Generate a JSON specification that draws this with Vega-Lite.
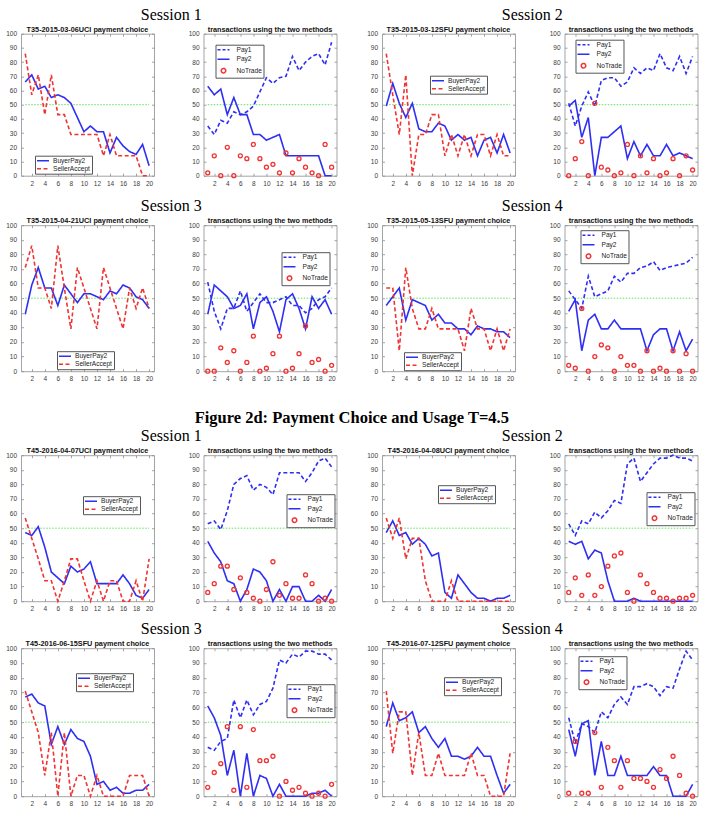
{
  "$schema": "https://vega.github.io/schema/vega-lite/v6.json",
  "padding": {"left": 5, "top": 6.7, "right": 5, "bottom": 2},
  "background": "white",
  "config": {
    "font": "Liberation Sans",
    "view": {"stroke": "#a4a4a4", "strokeWidth": 1},
    "axis": {"domain": false, "grid": false, "tickColor": "#8c8c8c", "tickSize": -2.5, "tickWidth": 0.8, "labelFontSize": 6.5, "labelFont": "Liberation Sans", "labelColor": "#3c3c3c", "labelPadding": 7, "title": null},
    "title": {"font": "Liberation Sans", "fontSize": 7.3, "fontWeight": "bold", "color": "#111111", "offset": -2.5, "frame": "group", "anchor": "middle"},
    "legend": {"orient": "none", "title": null, "padding": 1, "rowPadding": 0, "labelFontSize": 6.6, "labelFont": "Liberation Sans", "labelColor": "#222222", "strokeColor": "#555555", "fillColor": "white", "symbolSize": 36, "symbolStrokeWidth": 1.5, "symbolType": "M-1,0H3", "labelOffset": 9}
  },
  "datasets": {
    "A": [{"x":1,"BuyerPay2":66,"SellerAccept":86},{"x":2,"BuyerPay2":71,"SellerAccept":57},{"x":3,"BuyerPay2":61,"SellerAccept":71},{"x":4,"BuyerPay2":63,"SellerAccept":43},{"x":5,"BuyerPay2":55,"SellerAccept":71},{"x":6,"BuyerPay2":57,"SellerAccept":43},{"x":7,"BuyerPay2":55,"SellerAccept":43},{"x":8,"BuyerPay2":51,"SellerAccept":29},{"x":9,"BuyerPay2":41,"SellerAccept":29},{"x":10,"BuyerPay2":31,"SellerAccept":29},{"x":11,"BuyerPay2":35,"SellerAccept":29},{"x":12,"BuyerPay2":31,"SellerAccept":29},{"x":13,"BuyerPay2":31,"SellerAccept":14},{"x":14,"BuyerPay2":16,"SellerAccept":29},{"x":15,"BuyerPay2":27,"SellerAccept":14},{"x":16,"BuyerPay2":21,"SellerAccept":14},{"x":17,"BuyerPay2":17,"SellerAccept":14},{"x":18,"BuyerPay2":15,"SellerAccept":14},{"x":19,"BuyerPay2":22,"SellerAccept":0},{"x":20,"BuyerPay2":7,"SellerAccept":0}],
    "C": [{"x":1,"BuyerPay2":49,"SellerAccept":86},{"x":2,"BuyerPay2":65,"SellerAccept":57},{"x":3,"BuyerPay2":51,"SellerAccept":29},{"x":4,"BuyerPay2":41,"SellerAccept":71},{"x":5,"BuyerPay2":51,"SellerAccept":0},{"x":6,"BuyerPay2":33,"SellerAccept":29},{"x":7,"BuyerPay2":31,"SellerAccept":29},{"x":8,"BuyerPay2":31,"SellerAccept":43},{"x":9,"BuyerPay2":37,"SellerAccept":43},{"x":10,"BuyerPay2":35,"SellerAccept":14},{"x":11,"BuyerPay2":25,"SellerAccept":29},{"x":12,"BuyerPay2":29,"SellerAccept":14},{"x":13,"BuyerPay2":25,"SellerAccept":29},{"x":14,"BuyerPay2":27,"SellerAccept":14},{"x":15,"BuyerPay2":14,"SellerAccept":29},{"x":16,"BuyerPay2":25,"SellerAccept":29},{"x":17,"BuyerPay2":27,"SellerAccept":14},{"x":18,"BuyerPay2":16,"SellerAccept":29},{"x":19,"BuyerPay2":29,"SellerAccept":14},{"x":20,"BuyerPay2":16,"SellerAccept":14}],
    "E": [{"x":1,"BuyerPay2":39,"SellerAccept":71},{"x":2,"BuyerPay2":59,"SellerAccept":86},{"x":3,"BuyerPay2":71,"SellerAccept":57},{"x":4,"BuyerPay2":57,"SellerAccept":57},{"x":5,"BuyerPay2":57,"SellerAccept":43},{"x":6,"BuyerPay2":45,"SellerAccept":86},{"x":7,"BuyerPay2":59,"SellerAccept":57},{"x":8,"BuyerPay2":53,"SellerAccept":29},{"x":9,"BuyerPay2":47,"SellerAccept":71},{"x":10,"BuyerPay2":53,"SellerAccept":57},{"x":11,"BuyerPay2":53,"SellerAccept":43},{"x":12,"BuyerPay2":51,"SellerAccept":29},{"x":13,"BuyerPay2":49,"SellerAccept":71},{"x":14,"BuyerPay2":55,"SellerAccept":57},{"x":15,"BuyerPay2":53,"SellerAccept":43},{"x":16,"BuyerPay2":59,"SellerAccept":29},{"x":17,"BuyerPay2":57,"SellerAccept":57},{"x":18,"BuyerPay2":51,"SellerAccept":43},{"x":19,"BuyerPay2":49,"SellerAccept":57},{"x":20,"BuyerPay2":43,"SellerAccept":43}],
    "G": [{"x":1,"BuyerPay2":45,"SellerAccept":57},{"x":2,"BuyerPay2":51,"SellerAccept":57},{"x":3,"BuyerPay2":57,"SellerAccept":14},{"x":4,"BuyerPay2":35,"SellerAccept":71},{"x":5,"BuyerPay2":49,"SellerAccept":43},{"x":6,"BuyerPay2":47,"SellerAccept":29},{"x":7,"BuyerPay2":45,"SellerAccept":29},{"x":8,"BuyerPay2":35,"SellerAccept":43},{"x":9,"BuyerPay2":39,"SellerAccept":29},{"x":10,"BuyerPay2":33,"SellerAccept":29},{"x":11,"BuyerPay2":33,"SellerAccept":29},{"x":12,"BuyerPay2":29,"SellerAccept":29},{"x":13,"BuyerPay2":29,"SellerAccept":14},{"x":14,"BuyerPay2":25,"SellerAccept":43},{"x":15,"BuyerPay2":31,"SellerAccept":29},{"x":16,"BuyerPay2":29,"SellerAccept":29},{"x":17,"BuyerPay2":29,"SellerAccept":14},{"x":18,"BuyerPay2":27,"SellerAccept":29},{"x":19,"BuyerPay2":27,"SellerAccept":14},{"x":20,"BuyerPay2":23,"SellerAccept":29}],
    "I": [{"x":1,"BuyerPay2":47,"SellerAccept":57},{"x":2,"BuyerPay2":45,"SellerAccept":43},{"x":3,"BuyerPay2":51,"SellerAccept":29},{"x":4,"BuyerPay2":37,"SellerAccept":14},{"x":5,"BuyerPay2":20,"SellerAccept":14},{"x":6,"BuyerPay2":16,"SellerAccept":0},{"x":7,"BuyerPay2":12,"SellerAccept":14},{"x":8,"BuyerPay2":24,"SellerAccept":29},{"x":9,"BuyerPay2":20,"SellerAccept":29},{"x":10,"BuyerPay2":22,"SellerAccept":14},{"x":11,"BuyerPay2":27,"SellerAccept":0},{"x":12,"BuyerPay2":12,"SellerAccept":14},{"x":13,"BuyerPay2":12,"SellerAccept":0},{"x":14,"BuyerPay2":12,"SellerAccept":14},{"x":15,"BuyerPay2":12,"SellerAccept":14},{"x":16,"BuyerPay2":18,"SellerAccept":0},{"x":17,"BuyerPay2":12,"SellerAccept":0},{"x":18,"BuyerPay2":4,"SellerAccept":14},{"x":19,"BuyerPay2":2,"SellerAccept":0},{"x":20,"BuyerPay2":8,"SellerAccept":29}],
    "K": [{"x":1,"BuyerPay2":47,"SellerAccept":57},{"x":2,"BuyerPay2":55,"SellerAccept":43},{"x":3,"BuyerPay2":45,"SellerAccept":57},{"x":4,"BuyerPay2":47,"SellerAccept":29},{"x":5,"BuyerPay2":39,"SellerAccept":43},{"x":6,"BuyerPay2":43,"SellerAccept":43},{"x":7,"BuyerPay2":39,"SellerAccept":14},{"x":8,"BuyerPay2":31,"SellerAccept":0},{"x":9,"BuyerPay2":33,"SellerAccept":0},{"x":10,"BuyerPay2":6,"SellerAccept":0},{"x":11,"BuyerPay2":2,"SellerAccept":14},{"x":12,"BuyerPay2":18,"SellerAccept":0},{"x":13,"BuyerPay2":12,"SellerAccept":0},{"x":14,"BuyerPay2":6,"SellerAccept":0},{"x":15,"BuyerPay2":2,"SellerAccept":0},{"x":16,"BuyerPay2":2,"SellerAccept":0},{"x":17,"BuyerPay2":0,"SellerAccept":0},{"x":18,"BuyerPay2":2,"SellerAccept":0},{"x":19,"BuyerPay2":2,"SellerAccept":0},{"x":20,"BuyerPay2":4,"SellerAccept":0}],
    "M": [{"x":1,"BuyerPay2":67,"SellerAccept":71},{"x":2,"BuyerPay2":69,"SellerAccept":57},{"x":3,"BuyerPay2":63,"SellerAccept":43},{"x":4,"BuyerPay2":61,"SellerAccept":14},{"x":5,"BuyerPay2":35,"SellerAccept":43},{"x":6,"BuyerPay2":47,"SellerAccept":0},{"x":7,"BuyerPay2":35,"SellerAccept":43},{"x":8,"BuyerPay2":45,"SellerAccept":0},{"x":9,"BuyerPay2":39,"SellerAccept":14},{"x":10,"BuyerPay2":37,"SellerAccept":14},{"x":11,"BuyerPay2":27,"SellerAccept":0},{"x":12,"BuyerPay2":8,"SellerAccept":14},{"x":13,"BuyerPay2":10,"SellerAccept":0},{"x":14,"BuyerPay2":4,"SellerAccept":0},{"x":15,"BuyerPay2":6,"SellerAccept":0},{"x":16,"BuyerPay2":2,"SellerAccept":0},{"x":17,"BuyerPay2":2,"SellerAccept":14},{"x":18,"BuyerPay2":4,"SellerAccept":14},{"x":19,"BuyerPay2":4,"SellerAccept":14},{"x":20,"BuyerPay2":8,"SellerAccept":0}],
    "O": [{"x":1,"BuyerPay2":47,"SellerAccept":71},{"x":2,"BuyerPay2":63,"SellerAccept":29},{"x":3,"BuyerPay2":51,"SellerAccept":57},{"x":4,"BuyerPay2":53,"SellerAccept":57},{"x":5,"BuyerPay2":57,"SellerAccept":14},{"x":6,"BuyerPay2":43,"SellerAccept":43},{"x":7,"BuyerPay2":47,"SellerAccept":14},{"x":8,"BuyerPay2":39,"SellerAccept":14},{"x":9,"BuyerPay2":33,"SellerAccept":29},{"x":10,"BuyerPay2":39,"SellerAccept":14},{"x":11,"BuyerPay2":27,"SellerAccept":14},{"x":12,"BuyerPay2":27,"SellerAccept":14},{"x":13,"BuyerPay2":25,"SellerAccept":14},{"x":14,"BuyerPay2":27,"SellerAccept":29},{"x":15,"BuyerPay2":33,"SellerAccept":14},{"x":16,"BuyerPay2":27,"SellerAccept":14},{"x":17,"BuyerPay2":27,"SellerAccept":0},{"x":18,"BuyerPay2":14,"SellerAccept":0},{"x":19,"BuyerPay2":2,"SellerAccept":0},{"x":20,"BuyerPay2":8,"SellerAccept":29}],
    "B": [{"x":1,"Pay1":35,"Pay2":63,"NoTrade":2},{"x":2,"Pay1":29,"Pay2":57,"NoTrade":14},{"x":3,"Pay1":39,"Pay2":61,"NoTrade":0},{"x":4,"Pay1":37,"Pay2":43,"NoTrade":20},{"x":5,"Pay1":45,"Pay2":55,"NoTrade":0},{"x":6,"Pay1":43,"Pay2":43,"NoTrade":14},{"x":7,"Pay1":45,"Pay2":43,"NoTrade":12},{"x":8,"Pay1":49,"Pay2":29,"NoTrade":22},{"x":9,"Pay1":59,"Pay2":29,"NoTrade":12},{"x":10,"Pay1":69,"Pay2":25,"NoTrade":6},{"x":11,"Pay1":65,"Pay2":27,"NoTrade":8},{"x":12,"Pay1":69,"Pay2":29,"NoTrade":2},{"x":13,"Pay1":70,"Pay2":14,"NoTrade":16},{"x":14,"Pay1":84,"Pay2":14,"NoTrade":2},{"x":15,"Pay1":74,"Pay2":14,"NoTrade":12},{"x":16,"Pay1":80,"Pay2":14,"NoTrade":6},{"x":17,"Pay1":84,"Pay2":14,"NoTrade":2},{"x":18,"Pay1":86,"Pay2":14,"NoTrade":0},{"x":19,"Pay1":78,"Pay2":0,"NoTrade":22},{"x":20,"Pay1":94,"Pay2":0,"NoTrade":6}],
    "D": [{"x":1,"Pay1":51,"Pay2":49,"NoTrade":0},{"x":2,"Pay1":35,"Pay2":53,"NoTrade":12},{"x":3,"Pay1":49,"Pay2":27,"NoTrade":24},{"x":4,"Pay1":59,"Pay2":41,"NoTrade":0},{"x":5,"Pay1":49,"Pay2":0,"NoTrade":51},{"x":6,"Pay1":67,"Pay2":27,"NoTrade":6},{"x":7,"Pay1":69,"Pay2":27,"NoTrade":4},{"x":8,"Pay1":69,"Pay2":31,"NoTrade":0},{"x":9,"Pay1":63,"Pay2":35,"NoTrade":2},{"x":10,"Pay1":66,"Pay2":12,"NoTrade":22},{"x":11,"Pay1":76,"Pay2":24,"NoTrade":0},{"x":12,"Pay1":72,"Pay2":14,"NoTrade":14},{"x":13,"Pay1":76,"Pay2":22,"NoTrade":2},{"x":14,"Pay1":74,"Pay2":14,"NoTrade":12},{"x":15,"Pay1":86,"Pay2":14,"NoTrade":0},{"x":16,"Pay1":76,"Pay2":22,"NoTrade":2},{"x":17,"Pay1":74,"Pay2":14,"NoTrade":12},{"x":18,"Pay1":84,"Pay2":16,"NoTrade":0},{"x":19,"Pay1":72,"Pay2":14,"NoTrade":14},{"x":20,"Pay1":84,"Pay2":12,"NoTrade":4}],
    "F": [{"x":1,"Pay1":61,"Pay2":39,"NoTrade":0},{"x":2,"Pay1":41,"Pay2":59,"NoTrade":0},{"x":3,"Pay1":29,"Pay2":55,"NoTrade":16},{"x":4,"Pay1":43,"Pay2":51,"NoTrade":6},{"x":5,"Pay1":43,"Pay2":43,"NoTrade":14},{"x":6,"Pay1":55,"Pay2":45,"NoTrade":0},{"x":7,"Pay1":41,"Pay2":53,"NoTrade":6},{"x":8,"Pay1":47,"Pay2":29,"NoTrade":24},{"x":9,"Pay1":53,"Pay2":47,"NoTrade":0},{"x":10,"Pay1":47,"Pay2":51,"NoTrade":2},{"x":11,"Pay1":47,"Pay2":41,"NoTrade":12},{"x":12,"Pay1":49,"Pay2":27,"NoTrade":24},{"x":13,"Pay1":51,"Pay2":49,"NoTrade":0},{"x":14,"Pay1":45,"Pay2":53,"NoTrade":2},{"x":15,"Pay1":45,"Pay2":43,"NoTrade":12},{"x":16,"Pay1":40,"Pay2":29,"NoTrade":31},{"x":17,"Pay1":43,"Pay2":51,"NoTrade":6},{"x":18,"Pay1":49,"Pay2":43,"NoTrade":8},{"x":19,"Pay1":51,"Pay2":49,"NoTrade":0},{"x":20,"Pay1":57,"Pay2":39,"NoTrade":4}],
    "H": [{"x":1,"Pay1":55,"Pay2":41,"NoTrade":4},{"x":2,"Pay1":49,"Pay2":49,"NoTrade":2},{"x":3,"Pay1":43,"Pay2":14,"NoTrade":43},{"x":4,"Pay1":65,"Pay2":35,"NoTrade":0},{"x":5,"Pay1":51,"Pay2":39,"NoTrade":10},{"x":6,"Pay1":53,"Pay2":29,"NoTrade":18},{"x":7,"Pay1":55,"Pay2":29,"NoTrade":16},{"x":8,"Pay1":65,"Pay2":35,"NoTrade":0},{"x":9,"Pay1":61,"Pay2":29,"NoTrade":10},{"x":10,"Pay1":67,"Pay2":29,"NoTrade":4},{"x":11,"Pay1":67,"Pay2":29,"NoTrade":4},{"x":12,"Pay1":71,"Pay2":29,"NoTrade":0},{"x":13,"Pay1":72,"Pay2":14,"NoTrade":14},{"x":14,"Pay1":75,"Pay2":25,"NoTrade":0},{"x":15,"Pay1":69,"Pay2":29,"NoTrade":2},{"x":16,"Pay1":71,"Pay2":29,"NoTrade":0},{"x":17,"Pay1":72,"Pay2":14,"NoTrade":14},{"x":18,"Pay1":73,"Pay2":27,"NoTrade":0},{"x":19,"Pay1":74,"Pay2":14,"NoTrade":12},{"x":20,"Pay1":78,"Pay2":22,"NoTrade":0}],
    "J": [{"x":1,"Pay1":53,"Pay2":41,"NoTrade":6},{"x":2,"Pay1":55,"Pay2":33,"NoTrade":12},{"x":3,"Pay1":49,"Pay2":27,"NoTrade":24},{"x":4,"Pay1":62,"Pay2":14,"NoTrade":24},{"x":5,"Pay1":80,"Pay2":12,"NoTrade":8},{"x":6,"Pay1":84,"Pay2":0,"NoTrade":16},{"x":7,"Pay1":86,"Pay2":8,"NoTrade":6},{"x":8,"Pay1":76,"Pay2":22,"NoTrade":2},{"x":9,"Pay1":80,"Pay2":20,"NoTrade":0},{"x":10,"Pay1":78,"Pay2":14,"NoTrade":8},{"x":11,"Pay1":73,"Pay2":0,"NoTrade":27},{"x":12,"Pay1":88,"Pay2":8,"NoTrade":4},{"x":13,"Pay1":88,"Pay2":0,"NoTrade":12},{"x":14,"Pay1":88,"Pay2":10,"NoTrade":2},{"x":15,"Pay1":88,"Pay2":10,"NoTrade":2},{"x":16,"Pay1":82,"Pay2":0,"NoTrade":18},{"x":17,"Pay1":88,"Pay2":0,"NoTrade":12},{"x":18,"Pay1":96,"Pay2":4,"NoTrade":0},{"x":19,"Pay1":98,"Pay2":0,"NoTrade":2},{"x":20,"Pay1":92,"Pay2":8,"NoTrade":0}],
    "L": [{"x":1,"Pay1":53,"Pay2":41,"NoTrade":6},{"x":2,"Pay1":45,"Pay2":39,"NoTrade":16},{"x":3,"Pay1":55,"Pay2":41,"NoTrade":4},{"x":4,"Pay1":53,"Pay2":29,"NoTrade":18},{"x":5,"Pay1":61,"Pay2":35,"NoTrade":4},{"x":6,"Pay1":57,"Pay2":33,"NoTrade":10},{"x":7,"Pay1":62,"Pay2":14,"NoTrade":24},{"x":8,"Pay1":69,"Pay2":0,"NoTrade":31},{"x":9,"Pay1":67,"Pay2":0,"NoTrade":33},{"x":10,"Pay1":94,"Pay2":0,"NoTrade":6},{"x":11,"Pay1":98,"Pay2":2,"NoTrade":0},{"x":12,"Pay1":82,"Pay2":0,"NoTrade":18},{"x":13,"Pay1":88,"Pay2":0,"NoTrade":12},{"x":14,"Pay1":94,"Pay2":0,"NoTrade":6},{"x":15,"Pay1":98,"Pay2":0,"NoTrade":2},{"x":16,"Pay1":98,"Pay2":0,"NoTrade":2},{"x":17,"Pay1":100,"Pay2":0,"NoTrade":0},{"x":18,"Pay1":98,"Pay2":0,"NoTrade":2},{"x":19,"Pay1":98,"Pay2":0,"NoTrade":2},{"x":20,"Pay1":96,"Pay2":0,"NoTrade":4}],
    "N": [{"x":1,"Pay1":33,"Pay2":61,"NoTrade":6},{"x":2,"Pay1":31,"Pay2":53,"NoTrade":16},{"x":3,"Pay1":37,"Pay2":41,"NoTrade":22},{"x":4,"Pay1":39,"Pay2":14,"NoTrade":47},{"x":5,"Pay1":65,"Pay2":31,"NoTrade":4},{"x":6,"Pay1":53,"Pay2":0,"NoTrade":47},{"x":7,"Pay1":65,"Pay2":29,"NoTrade":6},{"x":8,"Pay1":55,"Pay2":0,"NoTrade":45},{"x":9,"Pay1":62,"Pay2":14,"NoTrade":24},{"x":10,"Pay1":64,"Pay2":12,"NoTrade":24},{"x":11,"Pay1":73,"Pay2":0,"NoTrade":27},{"x":12,"Pay1":92,"Pay2":8,"NoTrade":0},{"x":13,"Pay1":90,"Pay2":0,"NoTrade":10},{"x":14,"Pay1":96,"Pay2":0,"NoTrade":4},{"x":15,"Pay1":94,"Pay2":0,"NoTrade":6},{"x":16,"Pay1":98,"Pay2":0,"NoTrade":2},{"x":17,"Pay1":98,"Pay2":2,"NoTrade":0},{"x":18,"Pay1":96,"Pay2":2,"NoTrade":2},{"x":19,"Pay1":96,"Pay2":4,"NoTrade":0},{"x":20,"Pay1":92,"Pay2":0,"NoTrade":8}],
    "P": [{"x":1,"Pay1":53,"Pay2":45,"NoTrade":2},{"x":2,"Pay1":36,"Pay2":27,"NoTrade":37},{"x":3,"Pay1":49,"Pay2":49,"NoTrade":2},{"x":4,"Pay1":47,"Pay2":51,"NoTrade":2},{"x":5,"Pay1":43,"Pay2":14,"NoTrade":43},{"x":6,"Pay1":57,"Pay2":37,"NoTrade":6},{"x":7,"Pay1":53,"Pay2":14,"NoTrade":33},{"x":8,"Pay1":62,"Pay2":14,"NoTrade":24},{"x":9,"Pay1":67,"Pay2":27,"NoTrade":6},{"x":10,"Pay1":62,"Pay2":14,"NoTrade":24},{"x":11,"Pay1":74,"Pay2":14,"NoTrade":12},{"x":12,"Pay1":74,"Pay2":14,"NoTrade":12},{"x":13,"Pay1":76,"Pay2":14,"NoTrade":10},{"x":14,"Pay1":74,"Pay2":20,"NoTrade":6},{"x":15,"Pay1":68,"Pay2":14,"NoTrade":18},{"x":16,"Pay1":74,"Pay2":14,"NoTrade":12},{"x":17,"Pay1":73,"Pay2":0,"NoTrade":27},{"x":18,"Pay1":86,"Pay2":0,"NoTrade":14},{"x":19,"Pay1":98,"Pay2":0,"NoTrade":2},{"x":20,"Pay1":92,"Pay2":8,"NoTrade":0}]
  },
  "vconcat": [
    {
      "spacing": 10.5,
      "resolve": {"scale": {"x": "independent", "y": "independent", "color": "independent", "strokeDash": "independent"}, "legend": {"color": "independent"}, "axis": {"x": "independent", "y": "independent"}},
      "vconcat": [
        {
          "spacing": 28,
          "resolve": {"scale": {"x": "independent", "y": "independent", "color": "independent", "strokeDash": "independent"}, "legend": {"color": "independent"}, "axis": {"x": "independent", "y": "independent"}},
          "hconcat": [
            {
              "title": {"text": "Session 1", "font": "Liberation Serif", "fontSize": 16, "fontWeight": "normal", "color": "#000000", "frame": "bounds", "offset": 2.5},
              "spacing": 32.5,
              "resolve": {"scale": {"x": "independent", "y": "independent", "color": "independent", "strokeDash": "independent"}, "legend": {"color": "independent"}, "axis": {"x": "independent", "y": "independent"}},
              "hconcat": [
                {
                  "width": 133, "height": 142,
                  "title": "T35-2015-03-06UCI payment choice",
                  "data": {"name": "A"},
                  "resolve": {"axis": {"x": "independent", "y": "independent"}},
                  "layer": [
                    {"data": {"values": [{}]}, "mark": {"type": "rule", "color": "#5fe05f", "strokeDash": [1.5, 1.5], "strokeWidth": 1}, "encoding": {"x": {"datum": 1, "type": "quantitative", "scale": {"domain": [0.35, 20.75], "nice": false, "zero": false}, "axis": {"orient": "top", "labels": false, "values": [2,4,6,8,10,12,14,16,18,20]}}, "x2": {"datum": 20}, "y": {"datum": 50, "type": "quantitative", "scale": {"domain": [0, 100], "nice": false}, "axis": {"orient": "right", "labels": false, "values": [0,10,20,30,40,50,60,70,80,90,100]}}}},
                    {"transform": [{"fold": ["BuyerPay2", "SellerAccept"], "as": ["s", "v"]}], "mark": {"type": "line", "strokeWidth": 1.6}, "encoding": {"x": {"field": "x", "type": "quantitative", "scale": {"domain": [0.35, 20.75], "nice": false, "zero": false}, "axis": {"orient": "bottom", "values": [2,4,6,8,10,12,14,16,18,20]}}, "y": {"field": "v", "type": "quantitative", "scale": {"domain": [0, 100], "nice": false}, "axis": {"orient": "left", "values": [0,10,20,30,40,50,60,70,80,90,100]}}, "color": {"field": "s", "type": "nominal", "scale": {"domain": ["BuyerPay2", "SellerAccept"], "range": ["#2f2ff2", "#f03333"]}, "legend": {"legendX": 14, "legendY": 122, "encode": {"symbols": {"update": {"strokeDash": {"signal": "datum.value === 'SellerAccept' ? [3, 2] : [1, 0]"}}}}}}, "strokeDash": {"field": "s", "type": "nominal", "scale": {"domain": ["BuyerPay2", "SellerAccept"], "range": [[1, 0], [4, 2.5]]}, "legend": null}}}
                  ]
                },
                {
                  "width": 133, "height": 142,
                  "title": "transactions using the two methods",
                  "data": {"name": "B"},
                  "resolve": {"axis": {"x": "independent", "y": "independent"}},
                  "layer": [
                    {"data": {"values": [{}]}, "mark": {"type": "rule", "color": "#5fe05f", "strokeDash": [1.5, 1.5], "strokeWidth": 1}, "encoding": {"x": {"datum": 1, "type": "quantitative", "scale": {"domain": [0.35, 20.75], "nice": false, "zero": false}, "axis": {"orient": "top", "labels": false, "values": [2,4,6,8,10,12,14,16,18,20]}}, "x2": {"datum": 20}, "y": {"datum": 50, "type": "quantitative", "scale": {"domain": [0, 100], "nice": false}, "axis": {"orient": "right", "labels": false, "values": [0,10,20,30,40,50,60,70,80,90,100]}}}},
                    {"transform": [{"fold": ["Pay1", "Pay2"], "as": ["s", "v"]}], "mark": {"type": "line", "strokeWidth": 1.6}, "encoding": {"x": {"field": "x", "type": "quantitative", "scale": {"domain": [0.35, 20.75], "nice": false, "zero": false}, "axis": {"orient": "bottom", "values": [2,4,6,8,10,12,14,16,18,20]}}, "y": {"field": "v", "type": "quantitative", "scale": {"domain": [0, 100], "nice": false}, "axis": {"orient": "left", "values": [0,10,20,30,40,50,60,70,80,90,100]}}, "color": {"field": "s", "type": "nominal", "scale": {"domain": ["Pay1", "Pay2", "NoTrade"], "range": ["#2f2ff2", "#2f2ff2", "#f03333"]}, "legend": {"legendX": 12, "legendY": 11, "rowPadding": 1.5, "labelOffset": 12, "encode": {"symbols": {"update": {"shape": {"signal": "datum.value === 'NoTrade' ? 'M1.75,0A0.75,0.75,0,1,1,0.25,0A0.75,0.75,0,1,1,1.75,0' : 'M-1,0H3'"}, "strokeDash": {"signal": "datum.value === 'Pay1' ? [3, 2] : [1, 0]"}, "fill": {"value": "transparent"}}}}}}, "strokeDash": {"field": "s", "type": "nominal", "scale": {"domain": ["Pay1", "Pay2"], "range": [[4, 2.5], [1, 0]]}, "legend": null}}},
                    {"transform": [{"fold": ["NoTrade"], "as": ["s", "v"]}], "mark": {"type": "point", "filled": false, "opacity": 1, "size": 16, "strokeWidth": 1.3}, "encoding": {"x": {"field": "x", "type": "quantitative", "scale": {"domain": [0.35, 20.75], "nice": false, "zero": false}, "axis": null}, "y": {"field": "v", "type": "quantitative", "scale": {"domain": [0, 100], "nice": false}, "axis": null}, "color": {"field": "s", "type": "nominal", "scale": {"domain": ["Pay1", "Pay2", "NoTrade"], "range": ["#2f2ff2", "#2f2ff2", "#f03333"]}}}}
                  ]
                }
              ]
            },
            {
              "title": {"text": "Session 2", "font": "Liberation Serif", "fontSize": 16, "fontWeight": "normal", "color": "#000000", "frame": "bounds", "offset": 2.5},
              "spacing": 32.5,
              "resolve": {"scale": {"x": "independent", "y": "independent", "color": "independent", "strokeDash": "independent"}, "legend": {"color": "independent"}, "axis": {"x": "independent", "y": "independent"}},
              "hconcat": [
                {
                  "width": 133, "height": 142,
                  "title": "T35-2015-03-12SFU payment choice",
                  "data": {"name": "C"},
                  "resolve": {"axis": {"x": "independent", "y": "independent"}},
                  "layer": [
                    {"data": {"values": [{}]}, "mark": {"type": "rule", "color": "#5fe05f", "strokeDash": [1.5, 1.5], "strokeWidth": 1}, "encoding": {"x": {"datum": 1, "type": "quantitative", "scale": {"domain": [0.35, 20.75], "nice": false, "zero": false}, "axis": {"orient": "top", "labels": false, "values": [2,4,6,8,10,12,14,16,18,20]}}, "x2": {"datum": 20}, "y": {"datum": 50, "type": "quantitative", "scale": {"domain": [0, 100], "nice": false}, "axis": {"orient": "right", "labels": false, "values": [0,10,20,30,40,50,60,70,80,90,100]}}}},
                    {"transform": [{"fold": ["BuyerPay2", "SellerAccept"], "as": ["s", "v"]}], "mark": {"type": "line", "strokeWidth": 1.6}, "encoding": {"x": {"field": "x", "type": "quantitative", "scale": {"domain": [0.35, 20.75], "nice": false, "zero": false}, "axis": {"orient": "bottom", "values": [2,4,6,8,10,12,14,16,18,20]}}, "y": {"field": "v", "type": "quantitative", "scale": {"domain": [0, 100], "nice": false}, "axis": {"orient": "left", "values": [0,10,20,30,40,50,60,70,80,90,100]}}, "color": {"field": "s", "type": "nominal", "scale": {"domain": ["BuyerPay2", "SellerAccept"], "range": ["#2f2ff2", "#f03333"]}, "legend": {"legendX": 48, "legendY": 42, "encode": {"symbols": {"update": {"strokeDash": {"signal": "datum.value === 'SellerAccept' ? [3, 2] : [1, 0]"}}}}}}, "strokeDash": {"field": "s", "type": "nominal", "scale": {"domain": ["BuyerPay2", "SellerAccept"], "range": [[1, 0], [4, 2.5]]}, "legend": null}}}
                  ]
                },
                {
                  "width": 133, "height": 142,
                  "title": "transactions using the two methods",
                  "data": {"name": "D"},
                  "resolve": {"axis": {"x": "independent", "y": "independent"}},
                  "layer": [
                    {"data": {"values": [{}]}, "mark": {"type": "rule", "color": "#5fe05f", "strokeDash": [1.5, 1.5], "strokeWidth": 1}, "encoding": {"x": {"datum": 1, "type": "quantitative", "scale": {"domain": [0.35, 20.75], "nice": false, "zero": false}, "axis": {"orient": "top", "labels": false, "values": [2,4,6,8,10,12,14,16,18,20]}}, "x2": {"datum": 20}, "y": {"datum": 50, "type": "quantitative", "scale": {"domain": [0, 100], "nice": false}, "axis": {"orient": "right", "labels": false, "values": [0,10,20,30,40,50,60,70,80,90,100]}}}},
                    {"transform": [{"fold": ["Pay1", "Pay2"], "as": ["s", "v"]}], "mark": {"type": "line", "strokeWidth": 1.6}, "encoding": {"x": {"field": "x", "type": "quantitative", "scale": {"domain": [0.35, 20.75], "nice": false, "zero": false}, "axis": {"orient": "bottom", "values": [2,4,6,8,10,12,14,16,18,20]}}, "y": {"field": "v", "type": "quantitative", "scale": {"domain": [0, 100], "nice": false}, "axis": {"orient": "left", "values": [0,10,20,30,40,50,60,70,80,90,100]}}, "color": {"field": "s", "type": "nominal", "scale": {"domain": ["Pay1", "Pay2", "NoTrade"], "range": ["#2f2ff2", "#2f2ff2", "#f03333"]}, "legend": {"legendX": 11, "legendY": 6, "rowPadding": 1.5, "labelOffset": 12, "encode": {"symbols": {"update": {"shape": {"signal": "datum.value === 'NoTrade' ? 'M1.75,0A0.75,0.75,0,1,1,0.25,0A0.75,0.75,0,1,1,1.75,0' : 'M-1,0H3'"}, "strokeDash": {"signal": "datum.value === 'Pay1' ? [3, 2] : [1, 0]"}, "fill": {"value": "transparent"}}}}}}, "strokeDash": {"field": "s", "type": "nominal", "scale": {"domain": ["Pay1", "Pay2"], "range": [[4, 2.5], [1, 0]]}, "legend": null}}},
                    {"transform": [{"fold": ["NoTrade"], "as": ["s", "v"]}], "mark": {"type": "point", "filled": false, "opacity": 1, "size": 16, "strokeWidth": 1.3}, "encoding": {"x": {"field": "x", "type": "quantitative", "scale": {"domain": [0.35, 20.75], "nice": false, "zero": false}, "axis": null}, "y": {"field": "v", "type": "quantitative", "scale": {"domain": [0, 100], "nice": false}, "axis": null}, "color": {"field": "s", "type": "nominal", "scale": {"domain": ["Pay1", "Pay2", "NoTrade"], "range": ["#2f2ff2", "#2f2ff2", "#f03333"]}}}}
                  ]
                }
              ]
            }
          ]
        },
        {
          "spacing": 28,
          "resolve": {"scale": {"x": "independent", "y": "independent", "color": "independent", "strokeDash": "independent"}, "legend": {"color": "independent"}, "axis": {"x": "independent", "y": "independent"}},
          "hconcat": [
            {
              "title": {"text": "Session 3", "font": "Liberation Serif", "fontSize": 16, "fontWeight": "normal", "color": "#000000", "frame": "bounds", "offset": 2.5},
              "spacing": 32.5,
              "resolve": {"scale": {"x": "independent", "y": "independent", "color": "independent", "strokeDash": "independent"}, "legend": {"color": "independent"}, "axis": {"x": "independent", "y": "independent"}},
              "hconcat": [
                {
                  "width": 133, "height": 146,
                  "title": "T35-2015-04-21UCI payment choice",
                  "data": {"name": "E"},
                  "resolve": {"axis": {"x": "independent", "y": "independent"}},
                  "layer": [
                    {"data": {"values": [{}]}, "mark": {"type": "rule", "color": "#5fe05f", "strokeDash": [1.5, 1.5], "strokeWidth": 1}, "encoding": {"x": {"datum": 1, "type": "quantitative", "scale": {"domain": [0.35, 20.75], "nice": false, "zero": false}, "axis": {"orient": "top", "labels": false, "values": [2,4,6,8,10,12,14,16,18,20]}}, "x2": {"datum": 20}, "y": {"datum": 50, "type": "quantitative", "scale": {"domain": [0, 100], "nice": false}, "axis": {"orient": "right", "labels": false, "values": [0,10,20,30,40,50,60,70,80,90,100]}}}},
                    {"transform": [{"fold": ["BuyerPay2", "SellerAccept"], "as": ["s", "v"]}], "mark": {"type": "line", "strokeWidth": 1.6}, "encoding": {"x": {"field": "x", "type": "quantitative", "scale": {"domain": [0.35, 20.75], "nice": false, "zero": false}, "axis": {"orient": "bottom", "values": [2,4,6,8,10,12,14,16,18,20]}}, "y": {"field": "v", "type": "quantitative", "scale": {"domain": [0, 100], "nice": false}, "axis": {"orient": "left", "values": [0,10,20,30,40,50,60,70,80,90,100]}}, "color": {"field": "s", "type": "nominal", "scale": {"domain": ["BuyerPay2", "SellerAccept"], "range": ["#2f2ff2", "#f03333"]}, "legend": {"legendX": 36, "legendY": 126, "encode": {"symbols": {"update": {"strokeDash": {"signal": "datum.value === 'SellerAccept' ? [3, 2] : [1, 0]"}}}}}}, "strokeDash": {"field": "s", "type": "nominal", "scale": {"domain": ["BuyerPay2", "SellerAccept"], "range": [[1, 0], [4, 2.5]]}, "legend": null}}}
                  ]
                },
                {
                  "width": 133, "height": 146,
                  "title": "transactions using the two methods",
                  "data": {"name": "F"},
                  "resolve": {"axis": {"x": "independent", "y": "independent"}},
                  "layer": [
                    {"data": {"values": [{}]}, "mark": {"type": "rule", "color": "#5fe05f", "strokeDash": [1.5, 1.5], "strokeWidth": 1}, "encoding": {"x": {"datum": 1, "type": "quantitative", "scale": {"domain": [0.35, 20.75], "nice": false, "zero": false}, "axis": {"orient": "top", "labels": false, "values": [2,4,6,8,10,12,14,16,18,20]}}, "x2": {"datum": 20}, "y": {"datum": 50, "type": "quantitative", "scale": {"domain": [0, 100], "nice": false}, "axis": {"orient": "right", "labels": false, "values": [0,10,20,30,40,50,60,70,80,90,100]}}}},
                    {"transform": [{"fold": ["Pay1", "Pay2"], "as": ["s", "v"]}], "mark": {"type": "line", "strokeWidth": 1.6}, "encoding": {"x": {"field": "x", "type": "quantitative", "scale": {"domain": [0.35, 20.75], "nice": false, "zero": false}, "axis": {"orient": "bottom", "values": [2,4,6,8,10,12,14,16,18,20]}}, "y": {"field": "v", "type": "quantitative", "scale": {"domain": [0, 100], "nice": false}, "axis": {"orient": "left", "values": [0,10,20,30,40,50,60,70,80,90,100]}}, "color": {"field": "s", "type": "nominal", "scale": {"domain": ["Pay1", "Pay2", "NoTrade"], "range": ["#2f2ff2", "#2f2ff2", "#f03333"]}, "legend": {"legendX": 78, "legendY": 27, "rowPadding": 1.5, "labelOffset": 12, "encode": {"symbols": {"update": {"shape": {"signal": "datum.value === 'NoTrade' ? 'M1.75,0A0.75,0.75,0,1,1,0.25,0A0.75,0.75,0,1,1,1.75,0' : 'M-1,0H3'"}, "strokeDash": {"signal": "datum.value === 'Pay1' ? [3, 2] : [1, 0]"}, "fill": {"value": "transparent"}}}}}}, "strokeDash": {"field": "s", "type": "nominal", "scale": {"domain": ["Pay1", "Pay2"], "range": [[4, 2.5], [1, 0]]}, "legend": null}}},
                    {"transform": [{"fold": ["NoTrade"], "as": ["s", "v"]}], "mark": {"type": "point", "filled": false, "opacity": 1, "size": 16, "strokeWidth": 1.3}, "encoding": {"x": {"field": "x", "type": "quantitative", "scale": {"domain": [0.35, 20.75], "nice": false, "zero": false}, "axis": null}, "y": {"field": "v", "type": "quantitative", "scale": {"domain": [0, 100], "nice": false}, "axis": null}, "color": {"field": "s", "type": "nominal", "scale": {"domain": ["Pay1", "Pay2", "NoTrade"], "range": ["#2f2ff2", "#2f2ff2", "#f03333"]}}}}
                  ]
                }
              ]
            },
            {
              "title": {"text": "Session 4", "font": "Liberation Serif", "fontSize": 16, "fontWeight": "normal", "color": "#000000", "frame": "bounds", "offset": 2.5},
              "spacing": 32.5,
              "resolve": {"scale": {"x": "independent", "y": "independent", "color": "independent", "strokeDash": "independent"}, "legend": {"color": "independent"}, "axis": {"x": "independent", "y": "independent"}},
              "hconcat": [
                {
                  "width": 133, "height": 146,
                  "title": "T35-2015-05-13SFU payment choice",
                  "data": {"name": "G"},
                  "resolve": {"axis": {"x": "independent", "y": "independent"}},
                  "layer": [
                    {"data": {"values": [{}]}, "mark": {"type": "rule", "color": "#5fe05f", "strokeDash": [1.5, 1.5], "strokeWidth": 1}, "encoding": {"x": {"datum": 1, "type": "quantitative", "scale": {"domain": [0.35, 20.75], "nice": false, "zero": false}, "axis": {"orient": "top", "labels": false, "values": [2,4,6,8,10,12,14,16,18,20]}}, "x2": {"datum": 20}, "y": {"datum": 50, "type": "quantitative", "scale": {"domain": [0, 100], "nice": false}, "axis": {"orient": "right", "labels": false, "values": [0,10,20,30,40,50,60,70,80,90,100]}}}},
                    {"transform": [{"fold": ["BuyerPay2", "SellerAccept"], "as": ["s", "v"]}], "mark": {"type": "line", "strokeWidth": 1.6}, "encoding": {"x": {"field": "x", "type": "quantitative", "scale": {"domain": [0.35, 20.75], "nice": false, "zero": false}, "axis": {"orient": "bottom", "values": [2,4,6,8,10,12,14,16,18,20]}}, "y": {"field": "v", "type": "quantitative", "scale": {"domain": [0, 100], "nice": false}, "axis": {"orient": "left", "values": [0,10,20,30,40,50,60,70,80,90,100]}}, "color": {"field": "s", "type": "nominal", "scale": {"domain": ["BuyerPay2", "SellerAccept"], "range": ["#2f2ff2", "#f03333"]}, "legend": {"legendX": 22, "legendY": 127, "encode": {"symbols": {"update": {"strokeDash": {"signal": "datum.value === 'SellerAccept' ? [3, 2] : [1, 0]"}}}}}}, "strokeDash": {"field": "s", "type": "nominal", "scale": {"domain": ["BuyerPay2", "SellerAccept"], "range": [[1, 0], [4, 2.5]]}, "legend": null}}}
                  ]
                },
                {
                  "width": 133, "height": 146,
                  "title": "transactions using the two methods",
                  "data": {"name": "H"},
                  "resolve": {"axis": {"x": "independent", "y": "independent"}},
                  "layer": [
                    {"data": {"values": [{}]}, "mark": {"type": "rule", "color": "#5fe05f", "strokeDash": [1.5, 1.5], "strokeWidth": 1}, "encoding": {"x": {"datum": 1, "type": "quantitative", "scale": {"domain": [0.35, 20.75], "nice": false, "zero": false}, "axis": {"orient": "top", "labels": false, "values": [2,4,6,8,10,12,14,16,18,20]}}, "x2": {"datum": 20}, "y": {"datum": 50, "type": "quantitative", "scale": {"domain": [0, 100], "nice": false}, "axis": {"orient": "right", "labels": false, "values": [0,10,20,30,40,50,60,70,80,90,100]}}}},
                    {"transform": [{"fold": ["Pay1", "Pay2"], "as": ["s", "v"]}], "mark": {"type": "line", "strokeWidth": 1.6}, "encoding": {"x": {"field": "x", "type": "quantitative", "scale": {"domain": [0.35, 20.75], "nice": false, "zero": false}, "axis": {"orient": "bottom", "values": [2,4,6,8,10,12,14,16,18,20]}}, "y": {"field": "v", "type": "quantitative", "scale": {"domain": [0, 100], "nice": false}, "axis": {"orient": "left", "values": [0,10,20,30,40,50,60,70,80,90,100]}}, "color": {"field": "s", "type": "nominal", "scale": {"domain": ["Pay1", "Pay2", "NoTrade"], "range": ["#2f2ff2", "#2f2ff2", "#f03333"]}, "legend": {"legendX": 16, "legendY": 5, "rowPadding": 1.5, "labelOffset": 12, "encode": {"symbols": {"update": {"shape": {"signal": "datum.value === 'NoTrade' ? 'M1.75,0A0.75,0.75,0,1,1,0.25,0A0.75,0.75,0,1,1,1.75,0' : 'M-1,0H3'"}, "strokeDash": {"signal": "datum.value === 'Pay1' ? [3, 2] : [1, 0]"}, "fill": {"value": "transparent"}}}}}}, "strokeDash": {"field": "s", "type": "nominal", "scale": {"domain": ["Pay1", "Pay2"], "range": [[4, 2.5], [1, 0]]}, "legend": null}}},
                    {"transform": [{"fold": ["NoTrade"], "as": ["s", "v"]}], "mark": {"type": "point", "filled": false, "opacity": 1, "size": 16, "strokeWidth": 1.3}, "encoding": {"x": {"field": "x", "type": "quantitative", "scale": {"domain": [0.35, 20.75], "nice": false, "zero": false}, "axis": null}, "y": {"field": "v", "type": "quantitative", "scale": {"domain": [0, 100], "nice": false}, "axis": null}, "color": {"field": "s", "type": "nominal", "scale": {"domain": ["Pay1", "Pay2", "NoTrade"], "range": ["#2f2ff2", "#2f2ff2", "#f03333"]}}}}
                  ]
                }
              ]
            }
          ]
        }
      ]
    },
    {
      "title": {"text": "Figure 2d: Payment Choice and Usage T=4.5", "font": "Liberation Serif", "fontSize": 16.5, "fontWeight": "bold", "color": "#000000", "frame": "bounds", "offset": 2},
      "spacing": 8,
      "resolve": {"scale": {"x": "independent", "y": "independent", "color": "independent", "strokeDash": "independent"}, "legend": {"color": "independent"}, "axis": {"x": "independent", "y": "independent"}},
      "vconcat": [
        {
          "spacing": 28,
          "resolve": {"scale": {"x": "independent", "y": "independent", "color": "independent", "strokeDash": "independent"}, "legend": {"color": "independent"}, "axis": {"x": "independent", "y": "independent"}},
          "hconcat": [
            {
              "title": {"text": "Session 1", "font": "Liberation Serif", "fontSize": 16, "fontWeight": "normal", "color": "#000000", "frame": "bounds", "offset": 2.5},
              "spacing": 32.5,
              "resolve": {"scale": {"x": "independent", "y": "independent", "color": "independent", "strokeDash": "independent"}, "legend": {"color": "independent"}, "axis": {"x": "independent", "y": "independent"}},
              "hconcat": [
                {
                  "width": 133, "height": 146,
                  "title": "T45-2016-04-07UCI payment choice",
                  "data": {"name": "I"},
                  "resolve": {"axis": {"x": "independent", "y": "independent"}},
                  "layer": [
                    {"data": {"values": [{}]}, "mark": {"type": "rule", "color": "#5fe05f", "strokeDash": [1.5, 1.5], "strokeWidth": 1}, "encoding": {"x": {"datum": 1, "type": "quantitative", "scale": {"domain": [0.35, 20.75], "nice": false, "zero": false}, "axis": {"orient": "top", "labels": false, "values": [2,4,6,8,10,12,14,16,18,20]}}, "x2": {"datum": 20}, "y": {"datum": 50, "type": "quantitative", "scale": {"domain": [0, 100], "nice": false}, "axis": {"orient": "right", "labels": false, "values": [0,10,20,30,40,50,60,70,80,90,100]}}}},
                    {"transform": [{"fold": ["BuyerPay2", "SellerAccept"], "as": ["s", "v"]}], "mark": {"type": "line", "strokeWidth": 1.6}, "encoding": {"x": {"field": "x", "type": "quantitative", "scale": {"domain": [0.35, 20.75], "nice": false, "zero": false}, "axis": {"orient": "bottom", "values": [2,4,6,8,10,12,14,16,18,20]}}, "y": {"field": "v", "type": "quantitative", "scale": {"domain": [0, 100], "nice": false}, "axis": {"orient": "left", "values": [0,10,20,30,40,50,60,70,80,90,100]}}, "color": {"field": "s", "type": "nominal", "scale": {"domain": ["BuyerPay2", "SellerAccept"], "range": ["#2f2ff2", "#f03333"]}, "legend": {"legendX": 62, "legendY": 41, "encode": {"symbols": {"update": {"strokeDash": {"signal": "datum.value === 'SellerAccept' ? [3, 2] : [1, 0]"}}}}}}, "strokeDash": {"field": "s", "type": "nominal", "scale": {"domain": ["BuyerPay2", "SellerAccept"], "range": [[1, 0], [4, 2.5]]}, "legend": null}}}
                  ]
                },
                {
                  "width": 133, "height": 146,
                  "title": "transactions using the two methods",
                  "data": {"name": "J"},
                  "resolve": {"axis": {"x": "independent", "y": "independent"}},
                  "layer": [
                    {"data": {"values": [{}]}, "mark": {"type": "rule", "color": "#5fe05f", "strokeDash": [1.5, 1.5], "strokeWidth": 1}, "encoding": {"x": {"datum": 1, "type": "quantitative", "scale": {"domain": [0.35, 20.75], "nice": false, "zero": false}, "axis": {"orient": "top", "labels": false, "values": [2,4,6,8,10,12,14,16,18,20]}}, "x2": {"datum": 20}, "y": {"datum": 50, "type": "quantitative", "scale": {"domain": [0, 100], "nice": false}, "axis": {"orient": "right", "labels": false, "values": [0,10,20,30,40,50,60,70,80,90,100]}}}},
                    {"transform": [{"fold": ["Pay1", "Pay2"], "as": ["s", "v"]}], "mark": {"type": "line", "strokeWidth": 1.6}, "encoding": {"x": {"field": "x", "type": "quantitative", "scale": {"domain": [0.35, 20.75], "nice": false, "zero": false}, "axis": {"orient": "bottom", "values": [2,4,6,8,10,12,14,16,18,20]}}, "y": {"field": "v", "type": "quantitative", "scale": {"domain": [0, 100], "nice": false}, "axis": {"orient": "left", "values": [0,10,20,30,40,50,60,70,80,90,100]}}, "color": {"field": "s", "type": "nominal", "scale": {"domain": ["Pay1", "Pay2", "NoTrade"], "range": ["#2f2ff2", "#2f2ff2", "#f03333"]}, "legend": {"legendX": 83, "legendY": 39, "rowPadding": 1.5, "labelOffset": 12, "encode": {"symbols": {"update": {"shape": {"signal": "datum.value === 'NoTrade' ? 'M1.75,0A0.75,0.75,0,1,1,0.25,0A0.75,0.75,0,1,1,1.75,0' : 'M-1,0H3'"}, "strokeDash": {"signal": "datum.value === 'Pay1' ? [3, 2] : [1, 0]"}, "fill": {"value": "transparent"}}}}}}, "strokeDash": {"field": "s", "type": "nominal", "scale": {"domain": ["Pay1", "Pay2"], "range": [[4, 2.5], [1, 0]]}, "legend": null}}},
                    {"transform": [{"fold": ["NoTrade"], "as": ["s", "v"]}], "mark": {"type": "point", "filled": false, "opacity": 1, "size": 16, "strokeWidth": 1.3}, "encoding": {"x": {"field": "x", "type": "quantitative", "scale": {"domain": [0.35, 20.75], "nice": false, "zero": false}, "axis": null}, "y": {"field": "v", "type": "quantitative", "scale": {"domain": [0, 100], "nice": false}, "axis": null}, "color": {"field": "s", "type": "nominal", "scale": {"domain": ["Pay1", "Pay2", "NoTrade"], "range": ["#2f2ff2", "#2f2ff2", "#f03333"]}}}}
                  ]
                }
              ]
            },
            {
              "title": {"text": "Session 2", "font": "Liberation Serif", "fontSize": 16, "fontWeight": "normal", "color": "#000000", "frame": "bounds", "offset": 2.5},
              "spacing": 32.5,
              "resolve": {"scale": {"x": "independent", "y": "independent", "color": "independent", "strokeDash": "independent"}, "legend": {"color": "independent"}, "axis": {"x": "independent", "y": "independent"}},
              "hconcat": [
                {
                  "width": 133, "height": 146,
                  "title": "T45-2016-04-08UCI payment choice",
                  "data": {"name": "K"},
                  "resolve": {"axis": {"x": "independent", "y": "independent"}},
                  "layer": [
                    {"data": {"values": [{}]}, "mark": {"type": "rule", "color": "#5fe05f", "strokeDash": [1.5, 1.5], "strokeWidth": 1}, "encoding": {"x": {"datum": 1, "type": "quantitative", "scale": {"domain": [0.35, 20.75], "nice": false, "zero": false}, "axis": {"orient": "top", "labels": false, "values": [2,4,6,8,10,12,14,16,18,20]}}, "x2": {"datum": 20}, "y": {"datum": 50, "type": "quantitative", "scale": {"domain": [0, 100], "nice": false}, "axis": {"orient": "right", "labels": false, "values": [0,10,20,30,40,50,60,70,80,90,100]}}}},
                    {"transform": [{"fold": ["BuyerPay2", "SellerAccept"], "as": ["s", "v"]}], "mark": {"type": "line", "strokeWidth": 1.6}, "encoding": {"x": {"field": "x", "type": "quantitative", "scale": {"domain": [0.35, 20.75], "nice": false, "zero": false}, "axis": {"orient": "bottom", "values": [2,4,6,8,10,12,14,16,18,20]}}, "y": {"field": "v", "type": "quantitative", "scale": {"domain": [0, 100], "nice": false}, "axis": {"orient": "left", "values": [0,10,20,30,40,50,60,70,80,90,100]}}, "color": {"field": "s", "type": "nominal", "scale": {"domain": ["BuyerPay2", "SellerAccept"], "range": ["#2f2ff2", "#f03333"]}, "legend": {"legendX": 56, "legendY": 30, "encode": {"symbols": {"update": {"strokeDash": {"signal": "datum.value === 'SellerAccept' ? [3, 2] : [1, 0]"}}}}}}, "strokeDash": {"field": "s", "type": "nominal", "scale": {"domain": ["BuyerPay2", "SellerAccept"], "range": [[1, 0], [4, 2.5]]}, "legend": null}}}
                  ]
                },
                {
                  "width": 133, "height": 146,
                  "title": "transactions using the two methods",
                  "data": {"name": "L"},
                  "resolve": {"axis": {"x": "independent", "y": "independent"}},
                  "layer": [
                    {"data": {"values": [{}]}, "mark": {"type": "rule", "color": "#5fe05f", "strokeDash": [1.5, 1.5], "strokeWidth": 1}, "encoding": {"x": {"datum": 1, "type": "quantitative", "scale": {"domain": [0.35, 20.75], "nice": false, "zero": false}, "axis": {"orient": "top", "labels": false, "values": [2,4,6,8,10,12,14,16,18,20]}}, "x2": {"datum": 20}, "y": {"datum": 50, "type": "quantitative", "scale": {"domain": [0, 100], "nice": false}, "axis": {"orient": "right", "labels": false, "values": [0,10,20,30,40,50,60,70,80,90,100]}}}},
                    {"transform": [{"fold": ["Pay1", "Pay2"], "as": ["s", "v"]}], "mark": {"type": "line", "strokeWidth": 1.6}, "encoding": {"x": {"field": "x", "type": "quantitative", "scale": {"domain": [0.35, 20.75], "nice": false, "zero": false}, "axis": {"orient": "bottom", "values": [2,4,6,8,10,12,14,16,18,20]}}, "y": {"field": "v", "type": "quantitative", "scale": {"domain": [0, 100], "nice": false}, "axis": {"orient": "left", "values": [0,10,20,30,40,50,60,70,80,90,100]}}, "color": {"field": "s", "type": "nominal", "scale": {"domain": ["Pay1", "Pay2", "NoTrade"], "range": ["#2f2ff2", "#2f2ff2", "#f03333"]}, "legend": {"legendX": 82, "legendY": 37, "rowPadding": 1.5, "labelOffset": 12, "encode": {"symbols": {"update": {"shape": {"signal": "datum.value === 'NoTrade' ? 'M1.75,0A0.75,0.75,0,1,1,0.25,0A0.75,0.75,0,1,1,1.75,0' : 'M-1,0H3'"}, "strokeDash": {"signal": "datum.value === 'Pay1' ? [3, 2] : [1, 0]"}, "fill": {"value": "transparent"}}}}}}, "strokeDash": {"field": "s", "type": "nominal", "scale": {"domain": ["Pay1", "Pay2"], "range": [[4, 2.5], [1, 0]]}, "legend": null}}},
                    {"transform": [{"fold": ["NoTrade"], "as": ["s", "v"]}], "mark": {"type": "point", "filled": false, "opacity": 1, "size": 16, "strokeWidth": 1.3}, "encoding": {"x": {"field": "x", "type": "quantitative", "scale": {"domain": [0.35, 20.75], "nice": false, "zero": false}, "axis": null}, "y": {"field": "v", "type": "quantitative", "scale": {"domain": [0, 100], "nice": false}, "axis": null}, "color": {"field": "s", "type": "nominal", "scale": {"domain": ["Pay1", "Pay2", "NoTrade"], "range": ["#2f2ff2", "#2f2ff2", "#f03333"]}}}}
                  ]
                }
              ]
            }
          ]
        },
        {
          "spacing": 28,
          "resolve": {"scale": {"x": "independent", "y": "independent", "color": "independent", "strokeDash": "independent"}, "legend": {"color": "independent"}, "axis": {"x": "independent", "y": "independent"}},
          "hconcat": [
            {
              "title": {"text": "Session 3", "font": "Liberation Serif", "fontSize": 16, "fontWeight": "normal", "color": "#000000", "frame": "bounds", "offset": 2.5},
              "spacing": 32.5,
              "resolve": {"scale": {"x": "independent", "y": "independent", "color": "independent", "strokeDash": "independent"}, "legend": {"color": "independent"}, "axis": {"x": "independent", "y": "independent"}},
              "hconcat": [
                {
                  "width": 133, "height": 148,
                  "title": "T45-2016-06-15SFU payment choice",
                  "data": {"name": "M"},
                  "resolve": {"axis": {"x": "independent", "y": "independent"}},
                  "layer": [
                    {"data": {"values": [{}]}, "mark": {"type": "rule", "color": "#5fe05f", "strokeDash": [1.5, 1.5], "strokeWidth": 1}, "encoding": {"x": {"datum": 1, "type": "quantitative", "scale": {"domain": [0.35, 20.75], "nice": false, "zero": false}, "axis": {"orient": "top", "labels": false, "values": [2,4,6,8,10,12,14,16,18,20]}}, "x2": {"datum": 20}, "y": {"datum": 50, "type": "quantitative", "scale": {"domain": [0, 100], "nice": false}, "axis": {"orient": "right", "labels": false, "values": [0,10,20,30,40,50,60,70,80,90,100]}}}},
                    {"transform": [{"fold": ["BuyerPay2", "SellerAccept"], "as": ["s", "v"]}], "mark": {"type": "line", "strokeWidth": 1.6}, "encoding": {"x": {"field": "x", "type": "quantitative", "scale": {"domain": [0.35, 20.75], "nice": false, "zero": false}, "axis": {"orient": "bottom", "values": [2,4,6,8,10,12,14,16,18,20]}}, "y": {"field": "v", "type": "quantitative", "scale": {"domain": [0, 100], "nice": false}, "axis": {"orient": "left", "values": [0,10,20,30,40,50,60,70,80,90,100]}}, "color": {"field": "s", "type": "nominal", "scale": {"domain": ["BuyerPay2", "SellerAccept"], "range": ["#2f2ff2", "#f03333"]}, "legend": {"legendX": 55, "legendY": 25, "encode": {"symbols": {"update": {"strokeDash": {"signal": "datum.value === 'SellerAccept' ? [3, 2] : [1, 0]"}}}}}}, "strokeDash": {"field": "s", "type": "nominal", "scale": {"domain": ["BuyerPay2", "SellerAccept"], "range": [[1, 0], [4, 2.5]]}, "legend": null}}}
                  ]
                },
                {
                  "width": 133, "height": 148,
                  "title": "transactions using the two methods",
                  "data": {"name": "N"},
                  "resolve": {"axis": {"x": "independent", "y": "independent"}},
                  "layer": [
                    {"data": {"values": [{}]}, "mark": {"type": "rule", "color": "#5fe05f", "strokeDash": [1.5, 1.5], "strokeWidth": 1}, "encoding": {"x": {"datum": 1, "type": "quantitative", "scale": {"domain": [0.35, 20.75], "nice": false, "zero": false}, "axis": {"orient": "top", "labels": false, "values": [2,4,6,8,10,12,14,16,18,20]}}, "x2": {"datum": 20}, "y": {"datum": 50, "type": "quantitative", "scale": {"domain": [0, 100], "nice": false}, "axis": {"orient": "right", "labels": false, "values": [0,10,20,30,40,50,60,70,80,90,100]}}}},
                    {"transform": [{"fold": ["Pay1", "Pay2"], "as": ["s", "v"]}], "mark": {"type": "line", "strokeWidth": 1.6}, "encoding": {"x": {"field": "x", "type": "quantitative", "scale": {"domain": [0.35, 20.75], "nice": false, "zero": false}, "axis": {"orient": "bottom", "values": [2,4,6,8,10,12,14,16,18,20]}}, "y": {"field": "v", "type": "quantitative", "scale": {"domain": [0, 100], "nice": false}, "axis": {"orient": "left", "values": [0,10,20,30,40,50,60,70,80,90,100]}}, "color": {"field": "s", "type": "nominal", "scale": {"domain": ["Pay1", "Pay2", "NoTrade"], "range": ["#2f2ff2", "#2f2ff2", "#f03333"]}, "legend": {"legendX": 83, "legendY": 36, "rowPadding": 1.5, "labelOffset": 12, "encode": {"symbols": {"update": {"shape": {"signal": "datum.value === 'NoTrade' ? 'M1.75,0A0.75,0.75,0,1,1,0.25,0A0.75,0.75,0,1,1,1.75,0' : 'M-1,0H3'"}, "strokeDash": {"signal": "datum.value === 'Pay1' ? [3, 2] : [1, 0]"}, "fill": {"value": "transparent"}}}}}}, "strokeDash": {"field": "s", "type": "nominal", "scale": {"domain": ["Pay1", "Pay2"], "range": [[4, 2.5], [1, 0]]}, "legend": null}}},
                    {"transform": [{"fold": ["NoTrade"], "as": ["s", "v"]}], "mark": {"type": "point", "filled": false, "opacity": 1, "size": 16, "strokeWidth": 1.3}, "encoding": {"x": {"field": "x", "type": "quantitative", "scale": {"domain": [0.35, 20.75], "nice": false, "zero": false}, "axis": null}, "y": {"field": "v", "type": "quantitative", "scale": {"domain": [0, 100], "nice": false}, "axis": null}, "color": {"field": "s", "type": "nominal", "scale": {"domain": ["Pay1", "Pay2", "NoTrade"], "range": ["#2f2ff2", "#2f2ff2", "#f03333"]}}}}
                  ]
                }
              ]
            },
            {
              "title": {"text": "Session 4", "font": "Liberation Serif", "fontSize": 16, "fontWeight": "normal", "color": "#000000", "frame": "bounds", "offset": 2.5},
              "spacing": 32.5,
              "resolve": {"scale": {"x": "independent", "y": "independent", "color": "independent", "strokeDash": "independent"}, "legend": {"color": "independent"}, "axis": {"x": "independent", "y": "independent"}},
              "hconcat": [
                {
                  "width": 133, "height": 148,
                  "title": "T45-2016-07-12SFU payment choice",
                  "data": {"name": "O"},
                  "resolve": {"axis": {"x": "independent", "y": "independent"}},
                  "layer": [
                    {"data": {"values": [{}]}, "mark": {"type": "rule", "color": "#5fe05f", "strokeDash": [1.5, 1.5], "strokeWidth": 1}, "encoding": {"x": {"datum": 1, "type": "quantitative", "scale": {"domain": [0.35, 20.75], "nice": false, "zero": false}, "axis": {"orient": "top", "labels": false, "values": [2,4,6,8,10,12,14,16,18,20]}}, "x2": {"datum": 20}, "y": {"datum": 50, "type": "quantitative", "scale": {"domain": [0, 100], "nice": false}, "axis": {"orient": "right", "labels": false, "values": [0,10,20,30,40,50,60,70,80,90,100]}}}},
                    {"transform": [{"fold": ["BuyerPay2", "SellerAccept"], "as": ["s", "v"]}], "mark": {"type": "line", "strokeWidth": 1.6}, "encoding": {"x": {"field": "x", "type": "quantitative", "scale": {"domain": [0.35, 20.75], "nice": false, "zero": false}, "axis": {"orient": "bottom", "values": [2,4,6,8,10,12,14,16,18,20]}}, "y": {"field": "v", "type": "quantitative", "scale": {"domain": [0, 100], "nice": false}, "axis": {"orient": "left", "values": [0,10,20,30,40,50,60,70,80,90,100]}}, "color": {"field": "s", "type": "nominal", "scale": {"domain": ["BuyerPay2", "SellerAccept"], "range": ["#2f2ff2", "#f03333"]}, "legend": {"legendX": 62, "legendY": 29, "encode": {"symbols": {"update": {"strokeDash": {"signal": "datum.value === 'SellerAccept' ? [3, 2] : [1, 0]"}}}}}}, "strokeDash": {"field": "s", "type": "nominal", "scale": {"domain": ["BuyerPay2", "SellerAccept"], "range": [[1, 0], [4, 2.5]]}, "legend": null}}}
                  ]
                },
                {
                  "width": 133, "height": 148,
                  "title": "transactions using the two methods",
                  "data": {"name": "P"},
                  "resolve": {"axis": {"x": "independent", "y": "independent"}},
                  "layer": [
                    {"data": {"values": [{}]}, "mark": {"type": "rule", "color": "#5fe05f", "strokeDash": [1.5, 1.5], "strokeWidth": 1}, "encoding": {"x": {"datum": 1, "type": "quantitative", "scale": {"domain": [0.35, 20.75], "nice": false, "zero": false}, "axis": {"orient": "top", "labels": false, "values": [2,4,6,8,10,12,14,16,18,20]}}, "x2": {"datum": 20}, "y": {"datum": 50, "type": "quantitative", "scale": {"domain": [0, 100], "nice": false}, "axis": {"orient": "right", "labels": false, "values": [0,10,20,30,40,50,60,70,80,90,100]}}}},
                    {"transform": [{"fold": ["Pay1", "Pay2"], "as": ["s", "v"]}], "mark": {"type": "line", "strokeWidth": 1.6}, "encoding": {"x": {"field": "x", "type": "quantitative", "scale": {"domain": [0.35, 20.75], "nice": false, "zero": false}, "axis": {"orient": "bottom", "values": [2,4,6,8,10,12,14,16,18,20]}}, "y": {"field": "v", "type": "quantitative", "scale": {"domain": [0, 100], "nice": false}, "axis": {"orient": "left", "values": [0,10,20,30,40,50,60,70,80,90,100]}}, "color": {"field": "s", "type": "nominal", "scale": {"domain": ["Pay1", "Pay2", "NoTrade"], "range": ["#2f2ff2", "#2f2ff2", "#f03333"]}, "legend": {"legendX": 14, "legendY": 8, "rowPadding": 1.5, "labelOffset": 12, "encode": {"symbols": {"update": {"shape": {"signal": "datum.value === 'NoTrade' ? 'M1.75,0A0.75,0.75,0,1,1,0.25,0A0.75,0.75,0,1,1,1.75,0' : 'M-1,0H3'"}, "strokeDash": {"signal": "datum.value === 'Pay1' ? [3, 2] : [1, 0]"}, "fill": {"value": "transparent"}}}}}}, "strokeDash": {"field": "s", "type": "nominal", "scale": {"domain": ["Pay1", "Pay2"], "range": [[4, 2.5], [1, 0]]}, "legend": null}}},
                    {"transform": [{"fold": ["NoTrade"], "as": ["s", "v"]}], "mark": {"type": "point", "filled": false, "opacity": 1, "size": 16, "strokeWidth": 1.3}, "encoding": {"x": {"field": "x", "type": "quantitative", "scale": {"domain": [0.35, 20.75], "nice": false, "zero": false}, "axis": null}, "y": {"field": "v", "type": "quantitative", "scale": {"domain": [0, 100], "nice": false}, "axis": null}, "color": {"field": "s", "type": "nominal", "scale": {"domain": ["Pay1", "Pay2", "NoTrade"], "range": ["#2f2ff2", "#2f2ff2", "#f03333"]}}}}
                  ]
                }
              ]
            }
          ]
        }
      ]
    }
  ],
  "spacing": 26.5,
  "resolve": {"scale": {"x": "independent", "y": "independent", "color": "independent", "strokeDash": "independent"}, "legend": {"color": "independent"}, "axis": {"x": "independent", "y": "independent"}}
}
